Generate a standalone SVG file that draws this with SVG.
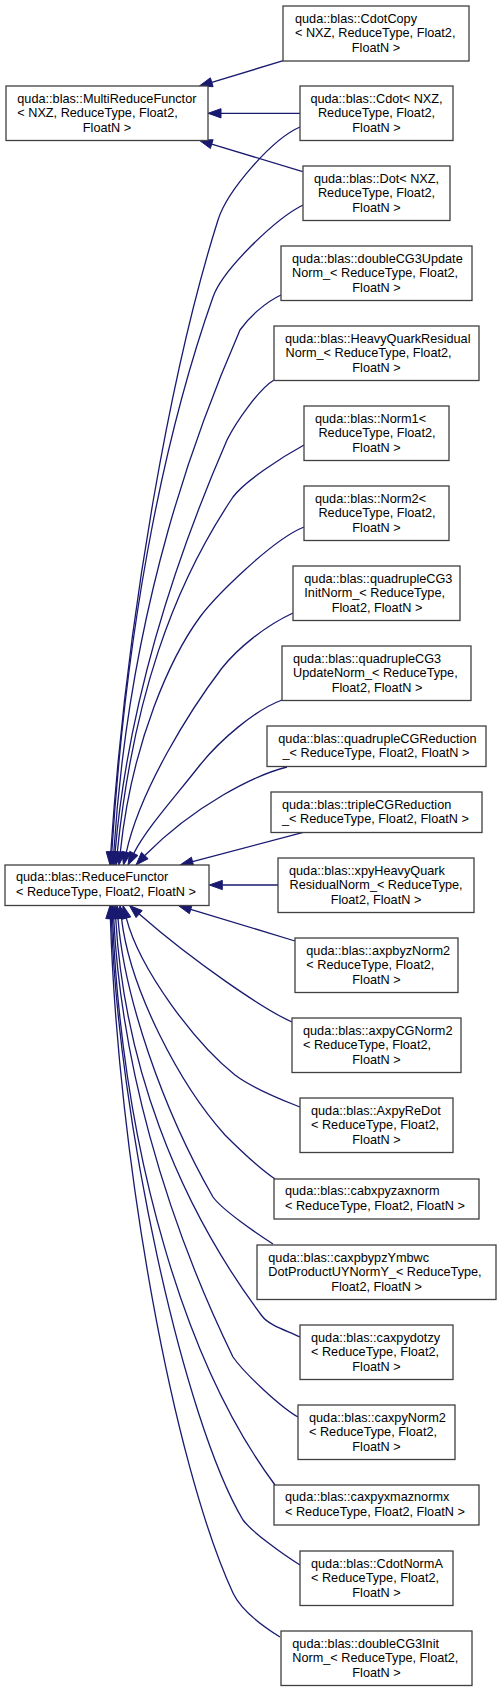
<svg xmlns="http://www.w3.org/2000/svg" width="501" height="1692" viewBox="0 0 501 1692">
<style>
.n rect{fill:#fff;stroke:#404040;stroke-width:1.3}
text{font-family:"Liberation Sans",Arial,Helvetica,sans-serif;font-size:12.7px;fill:#000}
.m{text-anchor:middle}
.e path{fill:none;stroke:#191970;stroke-width:1.3}
.e polygon{fill:#191970;stroke:#191970;stroke-width:1}
</style>
<rect width="501" height="1692" fill="#fff"/>
<g class="e" id="edges">
<path d="M283.3,60.7 L211.8,82.3"/><polygon points="199.3,86 210.4,77.8 213.1,86.7"/>
<path d="M300,113.3 L221,113.3"/><polygon points="208,113.3 221,108.7 221,117.9"/>
<path d="M302.7,171.7 L211.7,144.1"/><polygon points="199.3,140.3 213.1,139.7 210.4,148.5"/>
<path d="M300,127 C272,139 227,191 218,220 C173,362 127,610 110.8,852"/><polygon points="110,865 106.2,851.7 115.4,852.3"/>
<path d="M303,205 C276,218.5 223,269 213,297 C170,419 128,600 111.8,852"/><polygon points="111,865 107.2,851.7 116.4,852.3"/>
<path d="M281,295 C266,302 250,316 240,330 C200,422 130,600 113.8,852"/><polygon points="113,865 109.2,851.7 118.4,852.3"/>
<path d="M274,380 C259,389 236,422 227,440 C191,523 130,680 115.1,852.1"/><polygon points="114,865 110.5,851.7 119.7,852.5"/>
<path d="M304,445 C282,457 245,481 233,497 C172,588 133,700 117.3,852.1"/><polygon points="116,865 112.7,851.6 121.9,852.6"/>
<path d="M304,527 C271.5,540 214,598 200,617 C172,655 132,740 120.3,852.1"/><polygon points="119,865 115.7,851.6 124.9,852.6"/>
<path d="M293,613 C265,626 238,648 222,668 C190,710 140,790 126.3,852.3"/><polygon points="123.5,865 121.8,851.3 130.8,853.3"/>
<path d="M282,700 C255,710 220,740 200,765 C175,797 146,829 133.8,853.4"/><polygon points="128,865 129.7,851.3 137.9,855.5"/>
<path d="M287,767 C255,775 195,805 144.8,855.5"/><polygon points="136,865 141.5,852.3 148.1,858.8"/>
<path d="M303.3,832.3 L192.6,861.7"/><polygon points="180,865 191.4,857.2 193.7,866.1"/>
<path d="M278,885 L222.3,885"/><polygon points="209.3,885 222.3,880.4 222.3,889.6"/>
<path d="M295,941 L190.7,909.3"/><polygon points="178.3,905.5 192.1,904.9 189.4,913.7"/>
<path d="M292,1022 C265,1010 195,963 139.2,914.1"/><polygon points="129.4,905.5 142.2,910.6 136.1,917.6"/>
<path d="M300,1107 C285,1101 255,1090 235,1075 C195,1043 140,970 126.3,918.1"/><polygon points="123,905.5 130.8,916.9 121.9,919.3"/>
<path d="M275,1179 C262,1170 240,1150 225,1135 C180,1085 130,990 121.5,918.4"/><polygon points="120,905.5 126.1,917.9 116.9,918.9"/>
<path d="M273,1244 C256,1233 221.5,1209.3 213,1197 C162,1108 124,996 118,918.5"/><polygon points="117,905.5 122.6,918.1 113.4,918.9"/>
<path d="M300,1337 C286.5,1330.4 269.2,1325.6 262,1316 C175,1200 124,1060 115.7,918.5"/><polygon points="115,905.5 120.3,918.2 111.1,918.8"/>
<path d="M298,1417 C280.6,1407 244.4,1373.4 233,1357 C163,1213 121,1059 113.7,918.5"/><polygon points="113,905.5 118.3,918.3 109.1,918.7"/>
<path d="M275,1485 C187,1367 123,1159 112.5,918.5"/><polygon points="112,905.5 117.1,918.3 107.9,918.7"/>
<path d="M300,1565 C283,1554.6 252,1532 243,1520 C183,1419 118,1118 111.4,918.5"/><polygon points="111,905.5 116,918.4 106.8,918.6"/>
<path d="M280,1637 C264.7,1627.5 241.4,1611 233,1593 C173,1463 117.9,1158 110.4,918.5"/><polygon points="110,905.5 115,918.4 105.8,918.6"/>
</g>
<g class="n" id="n_multi"><rect x="6" y="86" width="202" height="54.5"/><text x="17.3" y="102.5">quda::blas::MultiReduceFunctor</text><text x="17.3" y="117.2">&lt; NXZ, ReduceType, Float2,</text><text class="m" x="107" y="131.9">FloatN &gt;</text></g>
<g class="n" id="n_reduce"><rect x="5" y="865" width="204" height="40.5"/><text x="16" y="881">quda::blas::ReduceFunctor</text><text x="16" y="895.8">&lt; ReduceType, Float2, FloatN &gt;</text></g>
<g class="n" id="n_cdotcopy"><rect x="283" y="6" width="186" height="55"/><text x="295" y="22.5">quda::blas::CdotCopy</text><text x="295" y="37.2">&lt; NXZ, ReduceType, Float2,</text><text class="m" x="376" y="51.9">FloatN &gt;</text></g>
<g class="n" id="n_cdot"><rect x="300" y="86" width="153" height="54.5"/><text class="m" x="376.5" y="102.5">quda::blas::Cdot&lt; NXZ,</text><text class="m" x="376.5" y="117.2">ReduceType, Float2,</text><text class="m" x="376.5" y="131.9">FloatN &gt;</text></g>
<g class="n" id="n_dot"><rect x="303" y="166" width="147" height="54.5"/><text class="m" x="376.5" y="182.5">quda::blas::Dot&lt; NXZ,</text><text class="m" x="376.5" y="197.2">ReduceType, Float2,</text><text class="m" x="376.5" y="211.9">FloatN &gt;</text></g>
<g class="n" id="n_dcg3u"><rect x="281" y="246" width="191" height="54.5"/><text x="292" y="262.5">quda::blas::doubleCG3Update</text><text x="292" y="277.2">Norm_&lt; ReduceType, Float2,</text><text class="m" x="376.5" y="291.9">FloatN &gt;</text></g>
<g class="n" id="n_hq"><rect x="274" y="326" width="205" height="54.5"/><text x="285" y="342.5">quda::blas::HeavyQuarkResidual</text><text x="285.5" y="357.2">Norm_&lt; ReduceType, Float2,</text><text class="m" x="376.5" y="371.9">FloatN &gt;</text></g>
<g class="n" id="n_norm1"><rect x="304" y="406" width="145" height="54.5"/><text x="315" y="422.5">quda::blas::Norm1&lt;</text><text class="m" x="377" y="437.2">ReduceType, Float2,</text><text class="m" x="376.5" y="451.9">FloatN &gt;</text></g>
<g class="n" id="n_norm2"><rect x="304" y="486" width="145" height="54.5"/><text x="315" y="502.5">quda::blas::Norm2&lt;</text><text class="m" x="377" y="517.2">ReduceType, Float2,</text><text class="m" x="376.5" y="531.9">FloatN &gt;</text></g>
<g class="n" id="n_qcg3i"><rect x="293" y="566" width="167" height="54.5"/><text x="304.3" y="582.5">quda::blas::quadrupleCG3</text><text x="304.3" y="597.2">InitNorm_&lt; ReduceType,</text><text class="m" x="377" y="611.9">Float2, FloatN &gt;</text></g>
<g class="n" id="n_qcg3u"><rect x="282" y="646" width="189" height="54.5"/><text x="293" y="662.5">quda::blas::quadrupleCG3</text><text x="293" y="677.2">UpdateNorm_&lt; ReduceType,</text><text class="m" x="377" y="691.9">Float2, FloatN &gt;</text></g>
<g class="n" id="n_qcgr"><rect x="267" y="726" width="219" height="40.5"/><text x="278.3" y="742.5">quda::blas::quadrupleCGReduction</text><text class="m" x="376" y="757.2">_&lt; ReduceType, Float2, FloatN &gt;</text></g>
<g class="n" id="n_tcgr"><rect x="271" y="792" width="211" height="40.5"/><text x="282" y="808.5">quda::blas::tripleCGReduction</text><text x="282" y="823.2">_&lt; ReduceType, Float2, FloatN &gt;</text></g>
<g class="n" id="n_xpy"><rect x="278" y="858" width="196" height="54.5"/><text x="289" y="874.5">quda::blas::xpyHeavyQuark</text><text x="289.5" y="889.2">ResidualNorm_&lt; ReduceType,</text><text class="m" x="376" y="903.9">Float2, FloatN &gt;</text></g>
<g class="n" id="n_axpbyz"><rect x="295" y="938" width="163" height="54.5"/><text x="306.3" y="954.5">quda::blas::axpbyzNorm2</text><text x="306.3" y="969.2">&lt; ReduceType, Float2,</text><text class="m" x="376.5" y="983.9">FloatN &gt;</text></g>
<g class="n" id="n_axpycg"><rect x="292" y="1018" width="169" height="54.5"/><text x="303" y="1034.5">quda::blas::axpyCGNorm2</text><text x="303" y="1049.2">&lt; ReduceType, Float2,</text><text class="m" x="376.5" y="1063.9">FloatN &gt;</text></g>
<g class="n" id="n_axpyredot"><rect x="300" y="1098" width="153" height="54.5"/><text x="311" y="1114.5">quda::blas::AxpyReDot</text><text x="311" y="1129.2">&lt; ReduceType, Float2,</text><text class="m" x="376.5" y="1143.9">FloatN &gt;</text></g>
<g class="n" id="n_cabx"><rect x="274" y="1179" width="205" height="40"/><text x="285" y="1195.3">quda::blas::cabxpyzaxnorm</text><text x="285" y="1210">&lt; ReduceType, Float2, FloatN &gt;</text></g>
<g class="n" id="n_caxpbypz"><rect x="257" y="1245" width="239" height="54.5"/><text x="268.3" y="1261.5">quda::blas::caxpbypzYmbwc</text><text x="268.3" y="1276.2">DotProductUYNormY_&lt; ReduceType,</text><text class="m" x="376.5" y="1290.9">Float2, FloatN &gt;</text></g>
<g class="n" id="n_caxpydotzy"><rect x="300" y="1325" width="153" height="54.5"/><text x="311" y="1341.5">quda::blas::caxpydotzy</text><text x="311" y="1356.2">&lt; ReduceType, Float2,</text><text class="m" x="376.5" y="1370.9">FloatN &gt;</text></g>
<g class="n" id="n_caxpynorm2"><rect x="298" y="1405" width="157" height="54.5"/><text x="309" y="1421.5">quda::blas::caxpyNorm2</text><text x="309" y="1436.2">&lt; ReduceType, Float2,</text><text class="m" x="376.5" y="1450.9">FloatN &gt;</text></g>
<g class="n" id="n_caxpyxmaz"><rect x="274" y="1485" width="205" height="40"/><text x="285" y="1501.3">quda::blas::caxpyxmaznormx</text><text x="285" y="1516">&lt; ReduceType, Float2, FloatN &gt;</text></g>
<g class="n" id="n_cdotnorma"><rect x="300" y="1551" width="153" height="54.5"/><text x="311" y="1567.5">quda::blas::CdotNormA</text><text x="311" y="1582.2">&lt; ReduceType, Float2,</text><text class="m" x="376.5" y="1596.9">FloatN &gt;</text></g>
<g class="n" id="n_dcg3i"><rect x="281" y="1631" width="191" height="54.5"/><text x="292.3" y="1647.5">quda::blas::doubleCG3Init</text><text x="292.3" y="1662.2">Norm_&lt; ReduceType, Float2,</text><text class="m" x="376.5" y="1676.9">FloatN &gt;</text></g>
</svg>
